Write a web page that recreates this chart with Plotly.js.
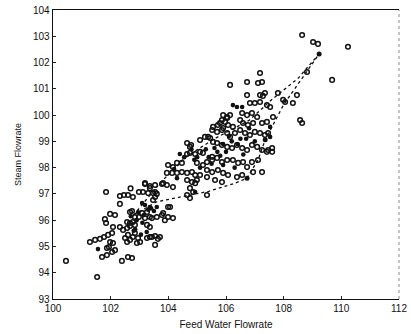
<!DOCTYPE html>
<html><head><meta charset="utf-8">
<script src="https://cdn.plot.ly/plotly-3.0.1.min.js"></script>
<style>html,body{margin:0;padding:0;background:#fff}#chart{width:411px;height:334px}</style>
</head><body><div id="chart"></div>
<script>
// Open-circle observations: feed water flowrate (x) vs steam flowrate (y)
const feedWater = [
100.45,101.53,101.84,102.69,102.32,102.46,102.6,102.77,103.19,103.36,103.54,103.78,103.95,
102.98,103.12,103.3,103.47,103.6,103.99,102.32,102.67,102.74,102.15,101.98,101.8,101.84,
103.09,103.26,103.36,103.19,103.43,103.6,103.78,102.08,102.32,102.43,102.57,102.67,
102.57,102.67,102.77,102.84,102.6,102.77,102.67,102.57,102.5,102.84,102.95,103.02,102.91,
103.26,103.43,103.64,103.54,101.28,101.46,101.63,101.77,101.91,102.05,101.98,102.08,101.94,
101.7,101.87,102.05,102.15,101.87,102.39,102.6,102.74,103.26,103.36,102.84,102.98,
104.65,104.79,105.1,105.27,105.38,104.65,104.75,104.93,105.1,105.2,
103.99,104.16,104.3,104.47,103.95,104.13,104.3,104.47,104.65,104.82,104.93,
104.99,105.2,105.34,105.52,105.69,105.86,106.04,105.34,105.52,105.72,105.9,106.07,
104.65,104.82,104.99,104.93,104.75,104.86,104.65,104.75,105.34,
103.19,103.36,103.54,103.54,103.47,103.82,103.82,103.99,104.16,103.88,
103.36,103.54,103.71,104.06,104.16,
106.14,106.73,107.11,107.25,106.73,107.18,107.28,106.83,107.0,107.18,107.42,107.53,
106.56,106.73,106.9,107.08,105.9,106.04,106.14,105.79,105.97,106.07,106.24,
106.49,106.59,106.76,106.94,107.25,107.42,105.52,105.69,105.86,106.04,106.14,106.31,
106.49,106.66,106.83,107.0,107.18,107.35,107.46,105.45,105.55,
105.69,105.86,106.04,106.21,106.38,106.56,106.73,106.9,107.08,107.25,107.42,105.52,
106.24,106.42,106.59,106.73,106.9,107.11,105.1,105.34,106.38,107.25,105.62,105.86,
107.18,107.35,107.8,107.98,108.05,108.32,108.46,108.81,108.57,108.64,107.63,107.46,107.6,
108.64,109.02,109.19,110.23,109.68,106.56,106.94,107.6,
106.04,105.86,105.55,105.72,105.9,104.75
];
const steamFlow = [
94.45,93.84,97.07,97.21,96.92,96.96,96.96,96.88,97.38,97.30,97.34,97.38,97.34,
97.07,97.07,97.03,97.03,97.0,96.5,96.62,96.31,96.35,96.2,96.24,96.04,95.89,
96.27,96.31,96.12,96.08,96.08,96.12,96.2,95.74,95.74,95.63,95.7,95.78,
95.93,95.89,95.93,95.82,95.44,95.36,95.25,95.17,95.32,95.51,95.32,95.17,95.13,
95.32,95.36,95.29,95.06,95.17,95.25,95.29,95.36,95.44,95.51,95.17,95.13,94.98,
94.6,94.67,94.79,94.86,94.94,94.45,94.6,94.56,95.82,95.74,96.12,96.12,
98.94,98.86,99.05,99.17,99.17,98.52,98.56,98.52,98.6,98.56,
98.1,98.02,98.18,98.18,97.8,97.8,97.8,97.83,97.8,97.83,97.72,
98.18,98.1,98.21,98.29,98.37,98.21,98.29,97.91,97.83,97.91,97.8,97.72,
97.53,97.45,97.53,97.41,97.22,97.07,96.96,96.84,96.96,
97.41,97.22,97.07,96.88,96.77,97.41,96.27,96.12,96.08,96.0,
95.36,95.4,95.36,96.5,97.26,
101.15,101.26,101.22,101.26,100.76,100.76,100.73,100.46,100.46,100.5,100.38,100.31,
100.08,100.0,100.08,99.93,100.0,99.93,100.0,99.7,99.74,99.62,99.55,
99.81,99.7,99.62,99.7,99.7,99.74,99.43,99.36,99.43,99.32,99.17,99.32,
99.43,99.32,99.24,99.36,99.32,99.24,99.32,99.13,98.98,
98.94,98.86,98.79,98.75,98.86,98.75,98.67,98.86,98.79,98.67,98.6,98.41,
98.29,98.18,98.21,98.02,98.21,98.29,97.72,97.64,97.64,97.83,97.53,97.45,
101.6,100.84,100.84,100.58,100.5,100.46,100.76,101.64,99.81,99.7,99.93,98.67,98.75,
103.05,102.78,102.71,102.6,101.34,97.72,97.83,98.6,
99.89,99.81,99.55,99.62,99.51,98.79
];
// Solid-dot observations
const filledFeed = [103.09,103.19,103.36,103.6,104.4,104.93,106.24,106.56,106.38,107.53,107.53,101.56,
105.7,105.9,106.2,105.4,106.5,104.9,105.1,103.1,102.9,103.3,102.8,106.6,107.0,106.3,104.3,
105.6,105.8,106.0,105.3,105.5,106.4,106.8,105.0,104.8,106.1,105.9,106.7,
102.95,103.15,103.25,102.7,103.4,102.85,103.05,103.5,104.2,104.55];
const filledSteam = [96.65,96.58,96.5,96.5,98.52,97.07,100.38,100.31,100.31,99.17,99.55,94.9,
98.6,98.9,99.0,98.4,99.1,98.3,98.0,95.9,96.0,96.4,95.6,98.5,99.0,98.0,97.6,
98.75,98.45,98.6,98.7,98.15,98.9,99.5,98.4,98.7,99.2,98.1,99.1,
96.3,96.2,95.55,96.15,96.45,95.65,95.45,96.35,97.95,98.4];
// Dotted trajectory loop
const trajFeed = [102.8,103.6,104.5,105.4,106.3,106.73,107.11,107.36,108.0,109.23,108.5,107.6,106.8,105.6,104.6,103.7,102.8];
const trajSteam = [96.2,96.7,96.9,97.1,97.4,97.6,98.29,99.06,100.4,102.33,101.4,100.6,99.8,99.1,98.4,97.4,96.2];
const trajDotFeed = [109.23,107.36,106.73];
const trajDotSteam = [102.33,99.06,97.6];

const font = {family: 'Liberation Sans, Arial, sans-serif', size: 10, color: '#111'};
const traces = [
  {x: trajFeed, y: trajSteam, mode: 'lines', line: {color: '#111', width: 1.3, dash: 'dot'}, hoverinfo: 'skip'},
  {x: feedWater, y: steamFlow, mode: 'markers',
   marker: {symbol: 'circle-open', size: 4.6, color: '#111', line: {width: 1.5, color: '#111'}}},
  {x: filledFeed, y: filledSteam, mode: 'markers',
   marker: {symbol: 'circle', size: 4.6, color: '#111'}},
  {x: trajDotFeed, y: trajDotSteam, mode: 'markers',
   marker: {symbol: 'circle', size: 5, color: '#111'}}
];
const layout = {
  width: 411, height: 334, showlegend: false,
  margin: {l: 53, r: 12, t: 10, b: 35},
  paper_bgcolor: '#fff', plot_bgcolor: '#fff', font: font,
  xaxis: {range: [100, 112], tickvals: [100,102,104,106,108,110,112], ticks: 'inside', ticklen: 3,
    tickcolor: '#222', showgrid: false, zeroline: false, showline: true, linecolor: '#111', linewidth: 1.3,
    mirror: true, tickfont: font,
    title: {text: 'Feed Water Flowrate', font: {family: font.family, size: 10, color: '#111'}, standoff: 7}},
  yaxis: {range: [93, 104], dtick: 1, ticks: 'inside', ticklen: 3, tickcolor: '#222', showgrid: false,
    zeroline: false, showline: true, linecolor: '#111', linewidth: 1.3, mirror: false, tickfont: font,
    title: {text: 'Steam Flowrate', font: {family: font.family, size: 9, color: '#111'}, standoff: 10}},
  shapes: [{type: 'line', xref: 'paper', yref: 'paper', x0: 1, x1: 1, y0: 0, y1: 1,
    line: {color: '#888', width: 1, dash: 'dot'}}]
};
Plotly.newPlot('chart', traces, layout, {displayModeBar: false, staticPlot: true});
</script></body></html>
